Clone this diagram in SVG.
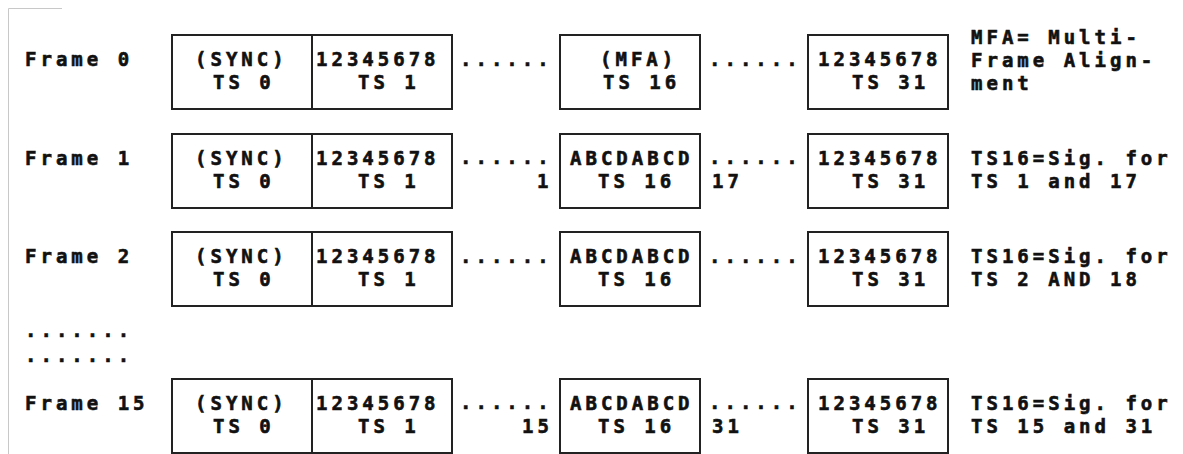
<svg xmlns="http://www.w3.org/2000/svg" width="1183" height="454" viewBox="0 0 1183 454">
<style>
.t{font-family:"DejaVu Sans Mono","Liberation Mono",monospace;font-weight:bold;font-size:19px;letter-spacing:4px;fill:#111;stroke:#111;stroke-width:0.6px}
.b{fill:#fff;stroke:#222;stroke-width:2}
.edge{stroke:#c8c8c8;stroke-width:1;fill:none}
</style>
<rect width="1183" height="454" fill="#fff"/>
<g id="edge"><path class="edge" d="M8.5 8.5H62M8.5 8.5V454"/></g>

<g id="labels">
<text class="t" x="25" y="66">Frame 0</text>
<text class="t" x="25" y="165">Frame 1</text>
<text class="t" x="25" y="263">Frame 2</text>
<text class="t" x="25" y="337">.......</text>
<text class="t" x="25" y="362">.......</text>
<text class="t" x="25" y="410">Frame 15</text>
</g>

<g id="row0">
<rect class="b" x="172" y="35" width="140" height="74"/>
<rect class="b" x="312" y="35" width="140" height="74"/>
<rect class="b" x="560" y="35" width="140" height="74"/>
<rect class="b" x="808" y="35" width="140" height="74"/>
<text class="t" x="195" y="66">(SYNC)</text><text class="t" x="213" y="89">TS 0</text>
<text class="t" x="316" y="66">12345678</text><text class="t" x="358" y="89">TS 1</text>
<text class="t" x="600" y="66">(MFA)</text><text class="t" x="603" y="89">TS 16</text>
<text class="t" x="818" y="66">12345678</text><text class="t" x="852" y="89">TS 31</text>
</g>

<g id="row1">
<rect class="b" x="172" y="134" width="140" height="74"/>
<rect class="b" x="312" y="134" width="140" height="74"/>
<rect class="b" x="560" y="134" width="140" height="74"/>
<rect class="b" x="808" y="134" width="140" height="74"/>
<text class="t" x="195" y="165">(SYNC)</text><text class="t" x="213" y="188">TS 0</text>
<text class="t" x="316" y="165">12345678</text><text class="t" x="358" y="188">TS 1</text>
<text class="t" x="570" y="165">ABCDABCD</text><text class="t" x="598" y="188">TS 16</text>
<text class="t" x="818" y="165">12345678</text><text class="t" x="852" y="188">TS 31</text>
</g>

<g id="row2">
<rect class="b" x="172" y="232" width="140" height="74"/>
<rect class="b" x="312" y="232" width="140" height="74"/>
<rect class="b" x="560" y="232" width="140" height="74"/>
<rect class="b" x="808" y="232" width="140" height="74"/>
<text class="t" x="195" y="263">(SYNC)</text><text class="t" x="213" y="286">TS 0</text>
<text class="t" x="316" y="263">12345678</text><text class="t" x="358" y="286">TS 1</text>
<text class="t" x="570" y="263">ABCDABCD</text><text class="t" x="598" y="286">TS 16</text>
<text class="t" x="818" y="263">12345678</text><text class="t" x="852" y="286">TS 31</text>
</g>

<g id="row15">
<rect class="b" x="172" y="379" width="140" height="74"/>
<rect class="b" x="312" y="379" width="140" height="74"/>
<rect class="b" x="560" y="379" width="140" height="74"/>
<rect class="b" x="808" y="379" width="140" height="74"/>
<text class="t" x="195" y="410">(SYNC)</text><text class="t" x="213" y="433">TS 0</text>
<text class="t" x="316" y="410">12345678</text><text class="t" x="358" y="433">TS 1</text>
<text class="t" x="570" y="410">ABCDABCD</text><text class="t" x="598" y="433">TS 16</text>
<text class="t" x="818" y="410">12345678</text><text class="t" x="852" y="433">TS 31</text>
</g>

<g id="connectors">
<text class="t" x="460" y="66">......</text><text class="t" x="709" y="66">......</text>
<text class="t" x="460" y="164">......</text><text class="t" x="709" y="164">......</text>
<text class="t" x="537" y="188">1</text><text class="t" x="712" y="188">17</text>
<text class="t" x="460" y="263">......</text><text class="t" x="709" y="263">......</text>
<text class="t" x="460" y="409">......</text><text class="t" x="709" y="409">......</text>
<text class="t" x="522" y="433">15</text><text class="t" x="712" y="433">31</text>
</g>

<g id="notes">
<text class="t" x="971" y="44">MFA= Multi-</text>
<text class="t" x="971" y="67">Frame Align-</text>
<text class="t" x="971" y="90">ment</text>
<text class="t" x="971" y="165">TS16=Sig. for</text>
<text class="t" x="971" y="188">TS 1 and 17</text>
<text class="t" x="971" y="263">TS16=Sig. for</text>
<text class="t" x="971" y="286">TS 2 AND 18</text>
<text class="t" x="971" y="410">TS16=Sig. for</text>
<text class="t" x="971" y="433">TS 15 and 31</text>
</g>
</svg>
